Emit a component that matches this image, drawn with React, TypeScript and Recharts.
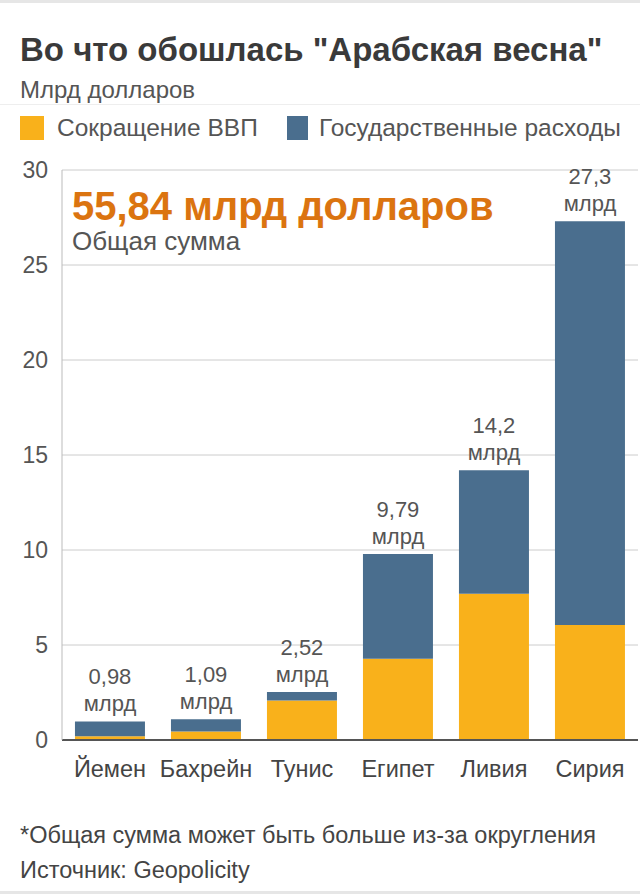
import { Bar, BarChart, CartesianGrid, LabelList, XAxis, YAxis } from 'recharts';

const countries = ['Йемен', 'Бахрейн', 'Тунис', 'Египет', 'Ливия', 'Сирия'];
const gdpLoss = [0.2, 0.45, 2.08, 4.27, 7.7, 6.05];
const spending = [0.78, 0.64, 0.44, 5.52, 6.5, 21.25];
const totalLabels = ['0,98', '1,09', '2,52', '9,79', '14,2', '27,3'];
const yTicks = [0, 5, 10, 15, 20, 25, 30];

const data = countries.map((name, i) => ({
  name,
  gdp: gdpLoss[i],
  spend: spending[i],
  label: totalLabels[i]
}));

const FONT = '"Liberation Sans", Arial, Helvetica, sans-serif';
const YELLOW = '#f9b11b';
const BLUE = '#4a6e8e';

function TotalLabel(props: any) {
  const { x, y, width, value } = props;
  const cx = Number(x) + Number(width) / 2;
  return (
    <g fill="#555" fontSize={22} fontFamily={FONT}>
      <text x={cx} y={Number(y) - 37} textAnchor="middle">{value}</text>
      <text x={cx} y={Number(y) - 10} textAnchor="middle">млрд</text>
    </g>
  );
}

const textBase: React.CSSProperties = { position: 'absolute', whiteSpace: 'nowrap' };

export default function App(): React.ReactElement {
  return (
    <div
      style={{
        position: 'absolute',
        left: 0,
        top: 0,
        width: 640,
        height: 894,
        background: '#fff',
        fontFamily: FONT,
        overflow: 'hidden'
      }}
    >
      <div style={{ position: 'absolute', left: 0, top: 0, width: 640, height: 3, background: '#e6e6e6' }} />
      <div style={{ ...textBase, left: 20, top: 31, fontSize: 33, lineHeight: '38px', fontWeight: 'bold', color: '#3a3a3a' }}>
        Во что обошлась "Арабская весна"
      </div>
      <div style={{ ...textBase, left: 20, top: 76, fontSize: 24, lineHeight: '28px', color: '#555' }}>
        Млрд долларов
      </div>
      <div style={{ position: 'absolute', left: 0, top: 104, width: 640, height: 1, background: '#eee' }} />
      <div style={{ position: 'absolute', left: 20, top: 116, width: 24, height: 24, background: YELLOW }} />
      <div style={{ ...textBase, left: 57, top: 114, fontSize: 24.5, lineHeight: '28px', color: '#555' }}>
        Сокращение ВВП
      </div>
      <div style={{ position: 'absolute', left: 287, top: 116, width: 21, height: 24, background: BLUE }} />
      <div style={{ ...textBase, left: 319, top: 114, fontSize: 24.5, lineHeight: '28px', color: '#555' }}>
        Государственные расходы
      </div>

      <div style={{ position: 'absolute', left: 0, top: 150 }}>
        <BarChart
          width={640}
          height={660}
          data={data}
          margin={{ top: 20, right: 2, bottom: 0, left: 0 }}
          barCategoryGap="13.5%"
        >
          <CartesianGrid vertical={false} stroke="#cccccc" />
          <XAxis
            dataKey="name"
            height={70}
            tickLine={false}
            tickSize={0}
            tickMargin={20}
            axisLine={{ stroke: '#555', strokeWidth: 2 }}
            tick={{ fill: '#444', fontSize: 23.5, fontFamily: FONT }}
            interval={0}
          />
          <YAxis
            width={62}
            domain={[0, 30]}
            ticks={yTicks}
            tickLine={false}
            tickSize={0}
            tickMargin={14}
            axisLine={{ stroke: '#bbbbbb' }}
            tick={{ fill: '#555', fontSize: 23, fontFamily: FONT }}
          />
          <Bar dataKey="gdp" stackId="a" fill={YELLOW} isAnimationActive={false} />
          <Bar dataKey="spend" stackId="a" fill={BLUE} isAnimationActive={false}>
            <LabelList dataKey="label" content={TotalLabel} />
          </Bar>
        </BarChart>
      </div>

      <div style={{ ...textBase, left: 72, top: 183, fontSize: 40, lineHeight: '46px', fontWeight: 'bold', color: '#db7410' }}>
        55,84 млрд долларов
      </div>
      <div style={{ ...textBase, left: 72, top: 226, fontSize: 26, lineHeight: '30px', color: '#555' }}>
        Общая сумма
      </div>

      <div style={{ ...textBase, left: 20, top: 821, fontSize: 23.5, lineHeight: '28px', color: '#444' }}>
        *Общая сумма может быть больше из-за округления
      </div>
      <div style={{ ...textBase, left: 20, top: 856, fontSize: 23.5, lineHeight: '28px', color: '#444' }}>
        Источник: Geopolicity
      </div>
      <div style={{ position: 'absolute', left: 0, top: 891, width: 640, height: 3, background: '#e6e6e6' }} />
    </div>
  );
}
